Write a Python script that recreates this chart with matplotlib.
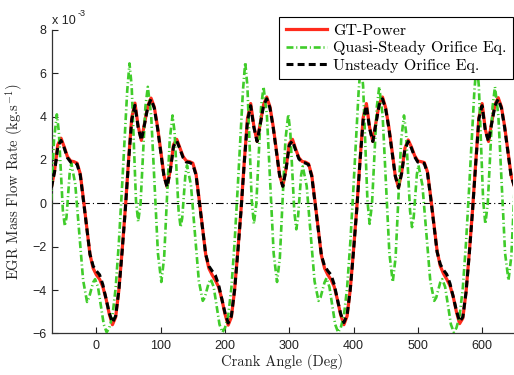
import numpy as np
import matplotlib
matplotlib.use('Agg')
import matplotlib.pyplot as plt

# crank angle grid of the GT-Power / unsteady traces (deg)
crank = np.arange(-70, 651, 5)

# EGR mass flow rate, units of 1e-3 kg/s
gt_power = [
    0.72, 1.5, 2.7, 3.0, 2.6, 2.15, 1.95, 1.92, 1.85, 1.35, 0.15, -1.1, -2.35, -3.0, -3.3, -3.5, -3.85, -4.4,
    -5.1, -5.6, -5.25, -4.0, -2.2, -0.25, 1.95, 3.95, 4.62, 3.55, 2.9, 3.7, 4.5, 4.85, 4.45, 3.55, 2.45, 1.3,
    0.75, 1.55, 2.7, 2.95, 2.55, 2.15, 1.95, 1.92, 1.85, 1.35, 0.15, -1.1, -2.35, -3.0, -3.3, -3.55, -3.85, -4.4,
    -5.1, -5.62, -5.25, -4.0, -2.2, -0.3, 1.9, 3.9, 4.6, 3.55, 2.85, 3.7, 4.55, 4.9, 4.45, 3.55, 2.45, 1.3,
    0.78, 1.6, 2.75, 2.95, 2.5, 2.1, 1.93, 1.9, 1.82, 1.3, 0.1, -1.15, -2.4, -3.0, -3.3, -3.52, -3.85, -4.45,
    -5.15, -5.6, -5.2, -3.95, -2.15, -0.25, 1.95, 3.95, 4.6, 3.5, 2.85, 3.75, 4.6, 4.9, 4.4, 3.5, 2.4, 1.25,
    0.72, 1.45, 2.55, 2.92, 2.6, 2.2, 1.95, 1.92, 1.88, 1.45, 0.3, -0.95, -2.2, -2.9, -3.25, -3.5, -3.8, -4.3,
    -5.0, -5.55, -5.3, -4.1, -2.3, -0.35, 1.85, 3.95, 4.6, 3.4, 2.85, 3.75, 4.55, 4.87, 4.45, 3.55, 2.45, 1.3,
    0.8]

unsteady = [
    0.72, 1.45, 2.62, 2.9, 2.55, 2.1, 1.9, 1.88, 1.8, 1.3, 0.1, -1.12, -2.35, -2.9, -3.12, -3.3, -3.75, -4.4,
    -5.05, -5.5, -5.2, -4.0, -2.25, -0.3, 1.9, 3.85, 4.52, 3.5, 2.9, 3.65, 4.45, 4.8, 4.4, 3.5, 2.4, 1.28,
    0.75, 1.5, 2.62, 2.88, 2.5, 2.1, 1.9, 1.88, 1.8, 1.3, 0.1, -1.12, -2.35, -2.9, -3.12, -3.32, -3.75, -4.4,
    -5.05, -5.52, -5.2, -4.0, -2.25, -0.35, 1.85, 3.8, 4.5, 3.5, 2.85, 3.65, 4.5, 4.82, 4.4, 3.5, 2.4, 1.28,
    0.78, 1.55, 2.68, 2.88, 2.45, 2.05, 1.88, 1.86, 1.78, 1.25, 0.05, -1.18, -2.4, -2.9, -3.12, -3.3, -3.75, -4.45,
    -5.1, -5.5, -5.15, -3.95, -2.2, -0.3, 1.9, 3.85, 4.5, 3.45, 2.85, 3.7, 4.55, 4.82, 4.35, 3.45, 2.35, 1.25,
    0.72, 1.4, 2.5, 2.85, 2.55, 2.15, 1.9, 1.88, 1.84, 1.4, 0.25, -0.98, -2.25, -2.82, -3.08, -3.28, -3.7, -4.3,
    -4.95, -5.45, -5.25, -4.1, -2.35, -0.4, 1.8, 3.9, 4.5, 3.35, 2.85, 3.7, 4.5, 4.8, 4.4, 3.5, 2.4, 1.28,
    0.8]

# quasi-steady trace read at its own points (deg)
crank_qs = [
    -79, -74.6, -70.25, -65.9, -61.5, -58.4, -55.25, -52.1, -49, -46.5, -44, -41.5, -39, -32.9, -26.75,
    -20.6, -14.5, -11.4, -8.25, -5.1, -2, 2.5, 7, 11.5, 16, 20, 25, 30, 35, 40, 45, 48, 51.5, 54.9, 58.25,
    61.6, 65, 68.75, 72.5, 76.25, 80, 85.25, 90.5, 95.75,
    101, 105.4, 109.75, 114.1, 118.5, 121.6, 124.75, 127.9, 131, 133.5, 136, 138.5, 141, 147.1, 153.25,
    159.4, 165.5, 168.6, 171.75, 174.9, 178, 182.5, 187, 191.5, 196, 200, 205, 210, 215, 220, 225, 228, 231.5,
    234.9, 238.25, 241.6, 245, 248.75, 252.5, 256.25, 260, 265.25, 270.5, 275.75,
    281, 285.4, 289.75, 294.1, 298.5, 301.6, 304.75, 307.9, 311, 313.5, 316, 318.5, 321, 327.1, 333.25,
    339.4, 345.5, 348.6, 351.75, 354.9, 358, 362.5, 367, 371.5, 376, 380, 385, 390, 395, 400, 405, 408, 411.5,
    414.9, 418.25, 421.6, 425, 428.75, 432.5, 436.25, 440, 445.25, 450.5, 455.75,
    461, 465.4, 469.75, 474.1, 478.5, 481.6, 484.75, 487.9, 491, 493.5, 496, 498.5, 501, 507.1, 513.25,
    519.4, 525.5, 528.6, 531.75, 534.9, 538, 542.5, 547, 551.5, 556, 560, 565, 570, 575, 580, 585, 588, 591.5,
    594.9, 598.25, 601.6, 605, 608.75, 612.5, 616.25, 620, 625.25, 630.5, 635.75,
    641, 645.4, 649.75, 654.1]

quasi_steady = [
    -3.63, -2.51, 0.21, 2.93, 4.1, 3.3, 1.48, -0.35, -1.05, -0.65, 0.35, 1.4, 1.85, 0.9, -1.35,
    -3.55, -4.55, -4.35, -4.0, -3.65, -3.5, -3.86, -4.72, -5.59, -5.95, -5.75, -5.2, -3.9, -1.8, 0.8, 3.6, 5.2, 6.45,
    5.4, 2.78, 0.14, -0.85, 0.0, 2.21, 4.45, 5.37, 4.05, 0.87, -2.31,
    -3.63, -2.51, 0.21, 2.93, 4.05, 3.3, 1.48, -0.35, -1.1, -0.68, 0.33, 1.33, 1.75, 0.84, -1.38,
    -3.59, -4.5, -4.35, -4.0, -3.65, -3.5, -3.86, -4.72, -5.59, -5.95, -5.75, -5.2, -3.9, -1.8, 0.8, 3.6, 5.2, 6.5,
    5.41, 2.78, 0.14, -0.95, -0.03, 2.21, 4.45, 5.37, 4.05, 0.87, -2.31,
    -3.63, -2.51, 0.21, 2.93, 4.1, 3.3, 1.48, -0.4, -1.2, -0.7, 0.3, 1.3, 1.7, 0.8, -1.4,
    -3.6, -4.5, -4.35, -4.0, -3.65, -3.45, -3.86, -4.72, -5.59, -5.95, -5.75, -5.2, -3.9, -1.8, 0.8, 3.6, 5.2, 6.5,
    5.41, 2.78, 0.14, -0.95, -0.03, 2.21, 4.45, 5.37, 4.05, 0.87, -2.31,
    -3.63, -2.51, 0.21, 2.93, 4.05, 3.3, 1.48, -0.35, -1.1, -0.68, 0.33, 1.33, 1.75, 0.84, -1.38,
    -3.59, -4.5, -4.35, -4.0, -3.65, -3.5, -3.86, -4.72, -5.59, -5.95, -5.75, -5.2, -3.9, -1.8, 0.8, 3.6, 5.2, 6.5,
    5.41, 2.78, 0.14, -0.95, -0.03, 2.21, 4.45, 5.37, 4.05, 0.87, -2.31,
    -3.55, -2.45, 0.2, 2.9]

x_ticks = [0, 100, 200, 300, 400, 500, 600]
y_ticks = [-6, -4, -2, 0, 2, 4, 6, 8]

plt.rcParams['font.family'] = ['Liberation Sans', 'DejaVu Sans']
plt.rcParams['mathtext.fontset'] = 'cm'
plt.rcParams['lines.scale_dashes'] = False

RED = '#ff2b1c'
GREEN = '#40cc2a'

fig = plt.figure(figsize=(5.14, 3.75), dpi=100)
ax = fig.add_axes([0.1012, 0.111, 0.8968, 0.8095])

ax.axhline(0, color='k', lw=0.8, linestyle=(0, (5.5, 2.2, 0.8, 2.2)), zorder=1)
ax.plot(crank, gt_power, color=RED, lw=2.3, label='GT-Power', zorder=2)
ax.plot(crank_qs, quasi_steady, color=GREEN, lw=1.9, linestyle=(0, (5, 2, 0.8, 2)),
        label='Quasi-Steady Orifice Eq.', zorder=3)
ax.plot(crank, unsteady, color='k', lw=2.2, linestyle=(0, (5, 3)),
        label='Unsteady Orifice Eq.', zorder=4)

ax.set_xlim(-69, 648)
ax.set_ylim(-6, 8)
ax.set_xticks(x_ticks)
ax.set_yticks(y_ticks)
ax.spines['top'].set_visible(False)
ax.spines['right'].set_visible(False)
for s in ['left', 'bottom']:
    ax.spines[s].set_color('#333333')
    ax.spines[s].set_linewidth(0.9)
ax.tick_params(direction='in', length=4, width=0.8, labelsize=9, colors='#222222')
ax.tick_params(axis='x', pad=5)
ax.tick_params(axis='y', pad=4)

ax.set_xlabel('Crank Angle (Deg)', fontfamily='cmr10', fontsize=10.5, color='#222222')
ax.set_ylabel('EGR Mass Flow Rate (kg.s$^{-1}$)', fontfamily='cmr10', fontsize=10.5, color='#222222')
ax.xaxis.set_label_coords(0.5, -0.068)
ax.yaxis.set_label_coords(-0.058, 0.5)

fig.text(52 / 514, 1 - 24 / 375, 'x 10', fontsize=9, color='#222222', va='baseline', ha='left')
fig.text(78 / 514, 1 - 16 / 375, '-3', fontsize=6.5, color='#222222', va='baseline', ha='left')

leg = ax.legend(loc='upper right', bbox_to_anchor=(0.998, 1 - 17 / 375), bbox_transform=fig.transFigure,
                prop={'family': 'cmr10', 'size': 11.5}, frameon=True, fancybox=False, framealpha=1,
                edgecolor='k', borderpad=0.42, labelspacing=0.2, handlelength=2.6, handletextpad=0.35,
                borderaxespad=0)
leg.get_frame().set_linewidth(0.8)
leg.set_zorder(10)

fig.savefig('out.png', dpi=100)
